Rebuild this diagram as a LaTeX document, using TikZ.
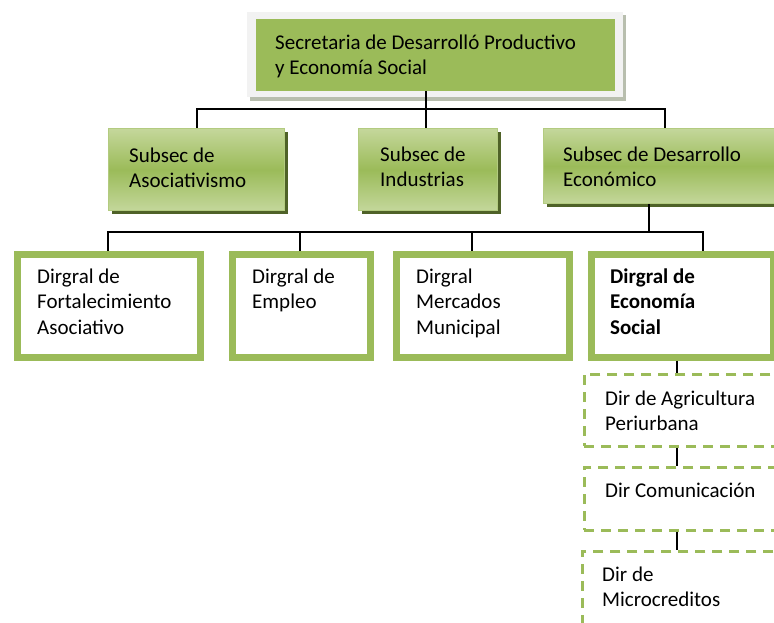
\documentclass[tikz,border=0pt]{standalone}
\usepackage{fontspec}
\setmainfont{Carlito}
\usetikzlibrary{shadows}
\definecolor{ogreen}{HTML}{9BBB59}
\definecolor{lgreen}{HTML}{C4D79B}
\definecolor{bgreen}{HTML}{B3CB80}
\definecolor{dolive}{HTML}{4F6228}
\definecolor{framegray}{HTML}{F2F2F2}
\definecolor{shadgray}{HTML}{B8BEAE}
\newcommand{\fl}{\rule{0pt}{16pt}}
\tikzset{
  txt/.style={anchor=north west, inner sep=0pt, align=left, font=\fontsize{21}{25.5}\selectfont},
  subbox/.style={anchor=north west, inner sep=0pt, draw=bgreen, line width=1.2pt,
     top color=lgreen, bottom color=lgreen, middle color=ogreen,
     general shadow={fill=dolive, shadow xshift=3.5pt, shadow yshift=-3.5pt}},
  dirbox/.style={anchor=north west, inner sep=0pt, draw=ogreen, fill=white, line width=7pt},
  dashbox/.style={anchor=north west, inner sep=0pt, draw=ogreen, line width=2.6pt, dash pattern=on 10pt off 7pt},
  conn/.style={draw=black, line width=1.4pt}
}
\begin{document}
\begin{tikzpicture}[x=1pt,y=-1pt]
\path[use as bounding box] (0,0) rectangle (774,623);
\fill[white] (0,0) rectangle (774,623);
\clip (0,0) rectangle (774,623);

% top box with frame
\fill[shadgray] (250,15) rectangle (626,101);
\fill[framegray] (247,12) rectangle (623,97);
\node[anchor=north west, inner sep=0pt, fill=ogreen, minimum width=359pt, minimum height=72pt] (top) at (256,19) {};
\node[txt] (ttop) at (275,33) {\fl Secretaria de Desarrolló Productivo\\y Economía Social};

% level 2
\node[subbox, minimum width=176pt, minimum height=82pt] (sa) at (108,128) {};
\node[subbox, minimum width=139pt, minimum height=82pt] (si) at (358,128) {};
\node[subbox, minimum width=250pt, minimum height=75pt] (sd) at (543,128) {};
\node[txt] (tsa) at (129,146) {\fl Subsec de\\Asociativismo};
\node[txt] (tsi) at (380,145) {\fl Subsec de\\Industrias};
\node[txt] (tsd) at (563,145) {\fl Subsec de Desarrollo\\Económico};

% level 3
\node[dirbox, minimum width=183pt, minimum height=103pt] (d1) at (13.5,250.5) {};
\node[dirbox, minimum width=138pt, minimum height=103pt] (d2) at (228.5,250.5) {};
\node[dirbox, minimum width=173pt, minimum height=103pt] (d3) at (392.5,250.5) {};
\node[dirbox, minimum width=182pt, minimum height=103pt] (d4) at (587.5,250.5) {};
\node[txt] (td1) at (37,267) {\fl Dirgral de\\Fortalecimiento\\Asociativo};
\node[txt] (td2) at (252,267) {\fl Dirgral de\\Empleo};
\node[txt] (td3) at (416,267) {\fl Dirgral\\Mercados\\Municipal};
\node[txt, font=\fontsize{21}{25.5}\selectfont\bfseries] (td4) at (610,267) {\fl Dirgral de\\Economía\\Social};

% level 4 (dashed)
\node[dashbox, minimum width=210pt, minimum height=72pt] (a1) at (583,373) {};
\node[dashbox, minimum width=210pt, minimum height=63pt] (a2) at (583,466) {};
\node[dashbox, minimum width=212pt, minimum height=90pt] (a3) at (581,550) {};
\node[txt] (ta1) at (605,389) {\fl Dir de Agricultura\\Periurbana};
\node[txt] (ta2) at (605,481) {\fl Dir Comunicación};
\node[txt] (ta3) at (602,565) {\fl Dir de\\Microcreditos};

% connectors
\coordinate (j1) at (426,109);
\coordinate (h1l) at (197,109);
\coordinate (h1r) at (665,109);
\draw[conn] (top.south -| j1) -- (j1);
\draw[conn] (h1l |- sa.north) -- (h1l) -- (h1r) -- (h1r |- sd.north);
\draw[conn] (j1) -- (j1 |- si.north);

\coordinate (j2) at (649,232);
\coordinate (h2l) at (108,232);
\coordinate (h2r) at (703,232);
\coordinate (h2b) at (300,232);
\coordinate (h2c) at (472,232);
\draw[conn] (sd.south -| j2) -- (j2);
\draw[conn] (h2l |- d1.north) -- (h2l) -- (h2r) -- (h2r |- d4.north);
\draw[conn] (h2b) -- (h2b |- d2.north);
\draw[conn] (h2c) -- (h2c |- d3.north);

\coordinate (c4) at (677,0);
\draw[conn] (d4.south -| c4) -- (a1.north -| c4);
\draw[conn] (a1.south -| c4) -- (a2.north -| c4);
\draw[conn] (a2.south -| c4) -- (a3.north -| c4);
\end{tikzpicture}
\end{document}
